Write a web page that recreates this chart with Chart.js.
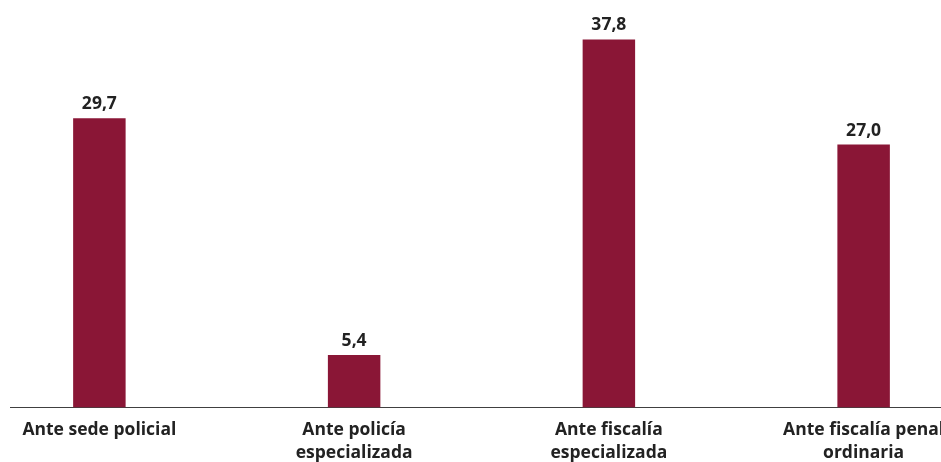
<!DOCTYPE html>
<html>
<head>
<meta charset="utf-8">
<script src="https://cdn.jsdelivr.net/npm/chart.js@4/dist/chart.umd.min.js"></script>
<style>
  html, body { margin: 0; padding: 0; background: #fff; overflow: hidden; }
  #clip { position: absolute; left: 10px; top: 0; width: 931px; height: 462px; overflow: hidden; }
  #wrap { position: absolute; left: -38px; top: 0; width: 1019px; height: 475px; }
</style>
</head>
<body>
<div id="clip"><div id="wrap"><canvas id="chart"></canvas></div></div>
<script>
// categorías y valores (%)
const categorias = [
  ["Ante sede policial"],
  ["Ante policía", "especializada"],
  ["Ante fiscalía", "especializada"],
  ["Ante fiscalía penal", "ordinaria"]
];
const valores = [29.7, 5.4, 37.8, 27.0];

const colorBarra = "#8a1636";
const colorTexto = "#222222";
const fuente = "'Open Sans', Lato, sans-serif";

// etiquetas de valor encima de cada barra
const etiquetasValor = {
  id: 'etiquetasValor',
  afterDatasetsDraw(chart) {
    const ctx = chart.ctx;
    const meta = chart.getDatasetMeta(0);
    ctx.save();
    ctx.font = "bold 17.5px " + fuente;
    ctx.fillStyle = colorTexto;
    ctx.textAlign = 'center';
    ctx.textBaseline = 'alphabetic';
    meta.data.forEach((bar, i) => {
      const txt = valores[i].toFixed(1).replace('.', ',');
      ctx.fillText(txt, bar.x, bar.y - 9);
    });
    ctx.restore();
  }
};

new Chart(document.getElementById('chart'), {
  type: 'bar',
  data: {
    labels: categorias,
    datasets: [{
      data: valores,
      backgroundColor: colorBarra,
      categoryPercentage: 1,
      barPercentage: 0.206
    }]
  },
  options: {
    responsive: true,
    maintainAspectRatio: false,
    animation: false,
    layout: { padding: { top: 18, left: 0, right: 0, bottom: 0 } },
    plugins: {
      legend: { display: false },
      tooltip: { enabled: false }
    },
    scales: {
      x: {
        grid: { display: false, drawTicks: false },
        border: { display: true, color: '#404040', width: 1 },
        ticks: {
          color: colorTexto,
          padding: 11,
          autoSkip: false,
          maxRotation: 0,
          font: { family: fuente, size: 17.5, weight: 'bold', lineHeight: 1.3 }
        }
      },
      y: {
        display: false,
        min: 0,
        max: 40
      }
    }
  },
  plugins: [etiquetasValor]
});
</script>
</body>
</html>
